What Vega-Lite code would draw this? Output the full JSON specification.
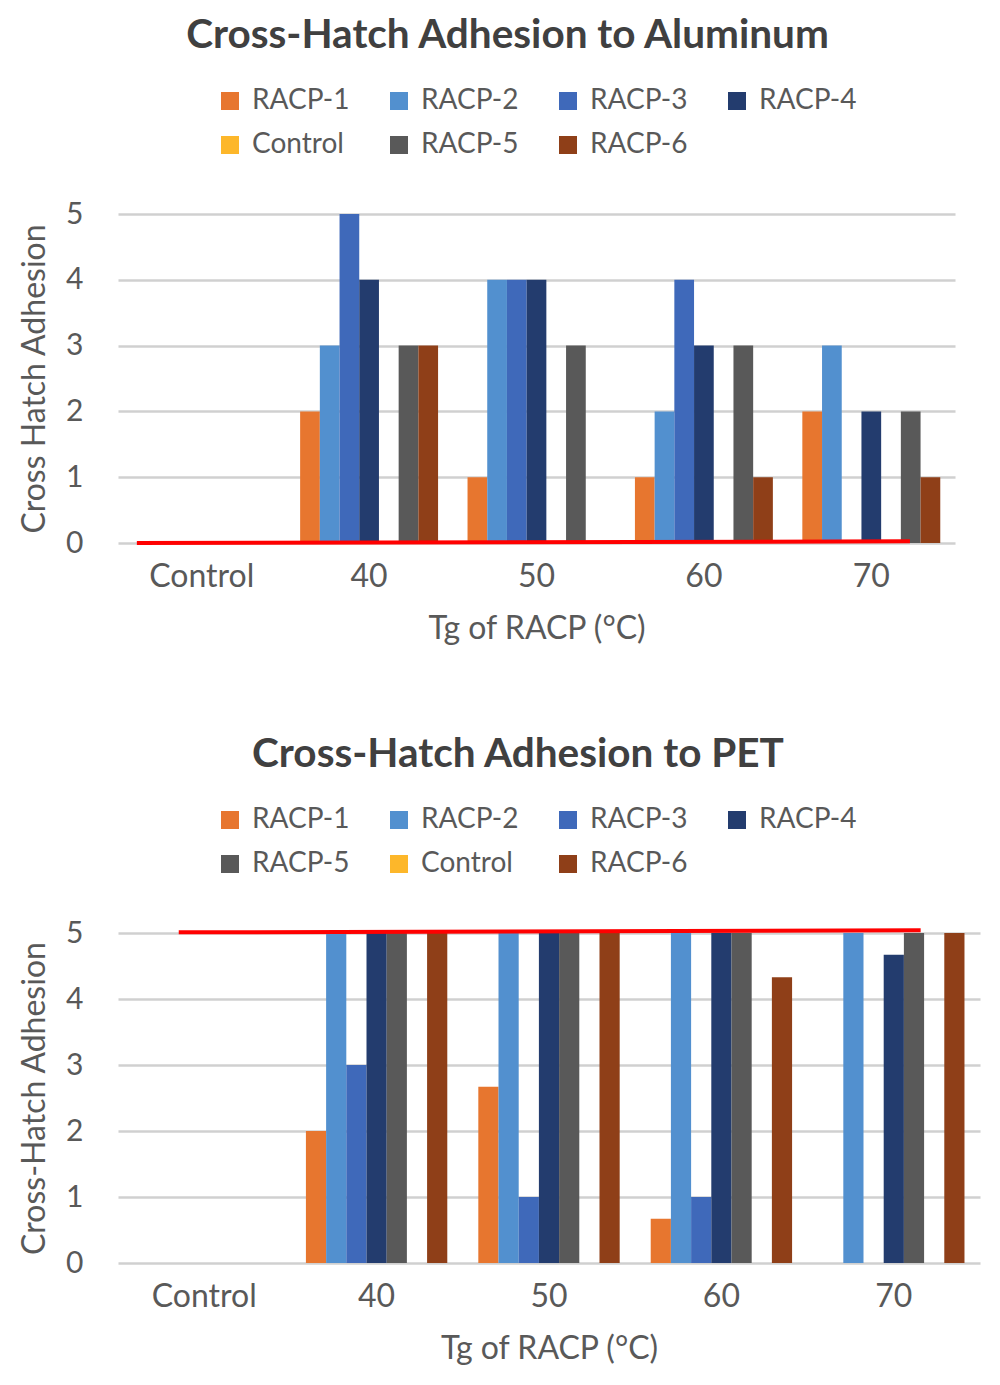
{
  "$schema": "https://vega.github.io/schema/vega-lite/v6.json",
  "description": "Cross-hatch adhesion of RACP coatings to aluminum and PET",
  "background": "white",
  "padding": {"left": 18, "top": 15, "right": 10, "bottom": 5},
  "config": {
    "font": "Lato",
    "view": {"stroke": null},
    "axis": {"labelColor": "#595959", "titleColor": "#595959", "labelFont": "Lato", "titleFont": "Lato", "titleFontWeight": "normal"},
    "legend": {"labelFont": "Lato"}
  },
  "datasets": {
    "aluminum": [
      {"tg": "Control", "series": "RACP-1", "value": 0},
      {"tg": "Control", "series": "RACP-2", "value": 0},
      {"tg": "Control", "series": "RACP-3", "value": 0},
      {"tg": "Control", "series": "RACP-4", "value": 0},
      {"tg": "Control", "series": "Control", "value": 0},
      {"tg": "Control", "series": "RACP-5", "value": 0},
      {"tg": "Control", "series": "RACP-6", "value": 0},
      {"tg": "40", "series": "RACP-1", "value": 2},
      {"tg": "40", "series": "RACP-2", "value": 3},
      {"tg": "40", "series": "RACP-3", "value": 5},
      {"tg": "40", "series": "RACP-4", "value": 4},
      {"tg": "40", "series": "Control", "value": 0},
      {"tg": "40", "series": "RACP-5", "value": 3},
      {"tg": "40", "series": "RACP-6", "value": 3},
      {"tg": "50", "series": "RACP-1", "value": 1},
      {"tg": "50", "series": "RACP-2", "value": 4},
      {"tg": "50", "series": "RACP-3", "value": 4},
      {"tg": "50", "series": "RACP-4", "value": 4},
      {"tg": "50", "series": "Control", "value": 0},
      {"tg": "50", "series": "RACP-5", "value": 3},
      {"tg": "50", "series": "RACP-6", "value": 0},
      {"tg": "60", "series": "RACP-1", "value": 1},
      {"tg": "60", "series": "RACP-2", "value": 2},
      {"tg": "60", "series": "RACP-3", "value": 4},
      {"tg": "60", "series": "RACP-4", "value": 3},
      {"tg": "60", "series": "Control", "value": 0},
      {"tg": "60", "series": "RACP-5", "value": 3},
      {"tg": "60", "series": "RACP-6", "value": 1},
      {"tg": "70", "series": "RACP-1", "value": 2},
      {"tg": "70", "series": "RACP-2", "value": 3},
      {"tg": "70", "series": "RACP-3", "value": 0},
      {"tg": "70", "series": "RACP-4", "value": 2},
      {"tg": "70", "series": "Control", "value": 0},
      {"tg": "70", "series": "RACP-5", "value": 2},
      {"tg": "70", "series": "RACP-6", "value": 1}
    ],
    "pet": [
      {"tg": "Control", "series": "RACP-1", "value": 0},
      {"tg": "Control", "series": "RACP-2", "value": 0},
      {"tg": "Control", "series": "RACP-3", "value": 0},
      {"tg": "Control", "series": "RACP-4", "value": 0},
      {"tg": "Control", "series": "RACP-5", "value": 0},
      {"tg": "Control", "series": "Control", "value": 0},
      {"tg": "Control", "series": "RACP-6", "value": 0},
      {"tg": "40", "series": "RACP-1", "value": 2},
      {"tg": "40", "series": "RACP-2", "value": 5},
      {"tg": "40", "series": "RACP-3", "value": 3},
      {"tg": "40", "series": "RACP-4", "value": 5},
      {"tg": "40", "series": "RACP-5", "value": 5},
      {"tg": "40", "series": "Control", "value": 0},
      {"tg": "40", "series": "RACP-6", "value": 5},
      {"tg": "50", "series": "RACP-1", "value": 2.67},
      {"tg": "50", "series": "RACP-2", "value": 5},
      {"tg": "50", "series": "RACP-3", "value": 1},
      {"tg": "50", "series": "RACP-4", "value": 5},
      {"tg": "50", "series": "RACP-5", "value": 5},
      {"tg": "50", "series": "Control", "value": 0},
      {"tg": "50", "series": "RACP-6", "value": 5},
      {"tg": "60", "series": "RACP-1", "value": 0.67},
      {"tg": "60", "series": "RACP-2", "value": 5},
      {"tg": "60", "series": "RACP-3", "value": 1},
      {"tg": "60", "series": "RACP-4", "value": 5},
      {"tg": "60", "series": "RACP-5", "value": 5},
      {"tg": "60", "series": "Control", "value": 0},
      {"tg": "60", "series": "RACP-6", "value": 4.33},
      {"tg": "70", "series": "RACP-1", "value": 0},
      {"tg": "70", "series": "RACP-2", "value": 5},
      {"tg": "70", "series": "RACP-3", "value": 0},
      {"tg": "70", "series": "RACP-4", "value": 4.67},
      {"tg": "70", "series": "RACP-5", "value": 5},
      {"tg": "70", "series": "Control", "value": 0},
      {"tg": "70", "series": "RACP-6", "value": 5}
    ],
    "aluminumLine": [{"from": "Control", "to": "70", "y0": 0, "y1": 0.025}],
    "petLine": [{"from": "Control", "to": "70", "y0": 5.01, "y1": 5.04}]
  },
  "spacing": 90,
  "vconcat": [
    {
      "title": {"text": "Cross-Hatch Adhesion to Aluminum", "fontSize": 40.5, "fontWeight": "bold", "color": "#404040", "anchor": "middle", "frame": "group", "dx": -29, "offset": 31},
      "width": 837,
      "height": 329,
      "layer": [
        {
          "data": {"name": "aluminum"},
          "mark": {"type": "bar"},
          "encoding": {
            "x": {
              "field": "tg", "type": "nominal", "sort": null,
              "scale": {"domain": ["Control", "40", "50", "60", "70"], "paddingInner": 0.176, "paddingOuter": 0.088},
              "axis": {"title": "Tg of RACP (°C)", "labelAngle": 0, "domain": false, "ticks": false, "labelFontSize": 32, "labelPadding": 18, "titleFontSize": 32, "titlePadding": 21}
            },
            "xOffset": {"field": "series", "type": "nominal", "sort": ["RACP-1", "RACP-2", "RACP-3", "RACP-4", "Control", "RACP-5", "RACP-6"]},
            "y": {
              "field": "value", "type": "quantitative", "scale": {"domain": [0, 5]},
              "axis": {"title": "Cross Hatch Adhesion", "values": [0, 1, 2, 3, 4, 5], "format": "d", "grid": true, "gridColor": "#D0D0D0", "gridWidth": 2.5, "domain": false, "ticks": false, "labelFontSize": 30, "labelPadding": 35, "titleFontSize": 32, "titlePadding": 14}
            },
            "color": {
              "field": "series", "type": "nominal",
              "scale": {"domain": ["RACP-1", "RACP-2", "RACP-3", "RACP-4", "Control", "RACP-5", "RACP-6"], "range": ["#E7762F", "#5290CF", "#3F69BA", "#233C6E", "#FDB72A", "#595959", "#8F3F18"]},
              "legend": {"orient": "none", "legendX": 98, "legendY": -127, "direction": "horizontal", "columns": 4, "title": null, "symbolType": "square", "symbolSize": 324, "symbolStrokeWidth": 0, "labelFontSize": 28, "labelColor": "#595959", "columnPadding": 35, "rowPadding": 16, "gridAlign": "all", "labelOffset": 8}
            }
          }
        },
        {
          "data": {"name": "aluminumLine"},
          "mark": {"type": "rule", "color": "#FF0000", "strokeWidth": 4},
          "encoding": {
            "x": {"field": "from", "type": "nominal", "bandPosition": 0.03},
            "x2": {"field": "to", "bandPosition": 0.78},
            "y": {"field": "y0", "type": "quantitative"},
            "y2": {"field": "y1"}
          }
        }
      ]
    },
    {
      "title": {"text": "Cross-Hatch Adhesion to PET", "fontSize": 40.5, "fontWeight": "bold", "color": "#404040", "anchor": "middle", "frame": "group", "dx": -31, "offset": 31},
      "width": 862,
      "height": 330,
      "layer": [
        {
          "data": {"name": "pet"},
          "mark": {"type": "bar"},
          "encoding": {
            "x": {
              "field": "tg", "type": "nominal", "sort": null,
              "scale": {"domain": ["Control", "40", "50", "60", "70"], "paddingInner": 0.18, "paddingOuter": 0.09},
              "axis": {"title": "Tg of RACP (°C)", "labelAngle": 0, "domain": false, "ticks": false, "labelFontSize": 32, "labelPadding": 18, "titleFontSize": 32, "titlePadding": 21}
            },
            "xOffset": {"field": "series", "type": "nominal", "sort": ["RACP-1", "RACP-2", "RACP-3", "RACP-4", "RACP-5", "Control", "RACP-6"]},
            "y": {
              "field": "value", "type": "quantitative", "scale": {"domain": [0, 5]},
              "axis": {"title": "Cross-Hatch Adhesion", "values": [0, 1, 2, 3, 4, 5], "format": "d", "grid": true, "gridColor": "#D0D0D0", "gridWidth": 2.5, "domain": false, "ticks": false, "labelFontSize": 30, "labelPadding": 35, "titleFontSize": 32, "titlePadding": 14}
            },
            "color": {
              "field": "series", "type": "nominal",
              "scale": {"domain": ["RACP-1", "RACP-2", "RACP-3", "RACP-4", "RACP-5", "Control", "RACP-6"], "range": ["#E7762F", "#5290CF", "#3F69BA", "#233C6E", "#595959", "#FDB72A", "#8F3F18"]},
              "legend": {"orient": "none", "legendX": 98, "legendY": -127, "direction": "horizontal", "columns": 4, "title": null, "symbolType": "square", "symbolSize": 324, "symbolStrokeWidth": 0, "labelFontSize": 28, "labelColor": "#595959", "columnPadding": 35, "rowPadding": 16, "gridAlign": "all", "labelOffset": 8}
            }
          }
        },
        {
          "data": {"name": "petLine"},
          "mark": {"type": "rule", "color": "#FF0000", "strokeWidth": 4},
          "encoding": {
            "x": {"field": "from", "type": "nominal", "bandPosition": 0.32},
            "x2": {"field": "to", "bandPosition": 0.69},
            "y": {"field": "y0", "type": "quantitative"},
            "y2": {"field": "y1"}
          }
        }
      ]
    }
  ],
  "resolve": {"scale": {"color": "independent", "x": "independent", "xOffset": "independent"}, "legend": {"color": "independent"}}
}
